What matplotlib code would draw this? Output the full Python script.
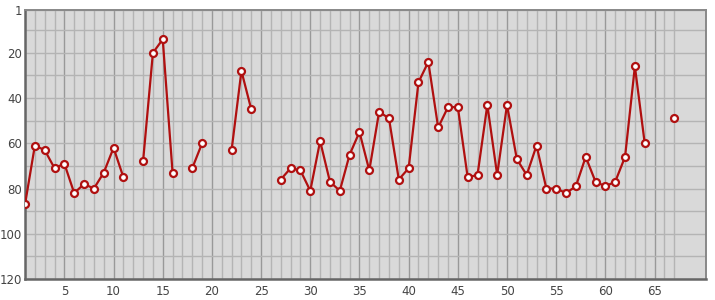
import numpy as np
import matplotlib
matplotlib.use("Agg")
import matplotlib.pyplot as plt
from matplotlib.ticker import MultipleLocator, FixedLocator

# Rang per uke (None = ingen verdi)
weeks = list(range(1, 68))
ranks = [87, 61, 63, 71, 69, 82, 78, 80, 73, 62,
         75, None, 68, 20, 14, 73, None, 71, 60, None,
         None, 63, 28, 45, None, None, 76, 71, 72, 81,
         59, 77, 81, 65, 55, 72, 46, 49, 76, 71,
         33, 24, 53, 44, 44, 75, 74, 43, 74, 43,
         67, 74, 61, 80, 80, 82, 79, 66, 77, 79,
         77, 66, 26, 60, None, None, 49]
x_ticks = [5, 10, 15, 20, 25, 30, 35, 40, 45, 50, 55, 60, 65]
y_ticks = [1, 20, 40, 60, 80, 100, 120]

y = np.array([np.nan if v is None else v for v in ranks], dtype=float)

fig = plt.figure(figsize=(7.15, 3.0), dpi=100)
ax = fig.add_axes([0.035, 0.07, 0.952, 0.897])
ax.set_facecolor('#d9d9d9')

ax.set_xlim(1, 70.2)
ax.set_ylim(120, 1)

# rutenett: loddrette linjer bare over ukene med data
ax.xaxis.set_minor_locator(FixedLocator(weeks))
ax.yaxis.set_minor_locator(MultipleLocator(10))
ax.grid(which='minor', color='#b4b4b4', linewidth=1)
ax.grid(which='major', axis='x', color='#999999', linewidth=1)
ax.grid(which='major', axis='y', color='#b4b4b4', linewidth=1)
ax.set_axisbelow(True)

ax.plot(weeks, y, color='#b01010', linewidth=1.6, marker='o', markersize=5,
        markerfacecolor='white', markeredgecolor='#b01010', markeredgewidth=1.6,
        zorder=3)

ax.xaxis.set_major_locator(FixedLocator(x_ticks))
ax.yaxis.set_major_locator(FixedLocator(y_ticks))
ax.tick_params(which='both', length=0, labelsize=8.5, colors='#444444', pad=4)
ax.tick_params(axis='y', pad=2)

for side, s in ax.spines.items():
    if side in ('left', 'bottom'):
        s.set_color('#666666')
        s.set_linewidth(1.8)
    else:
        s.set_color('#888888')
        s.set_linewidth(1.4)

fig.savefig('out.png', dpi=100)
